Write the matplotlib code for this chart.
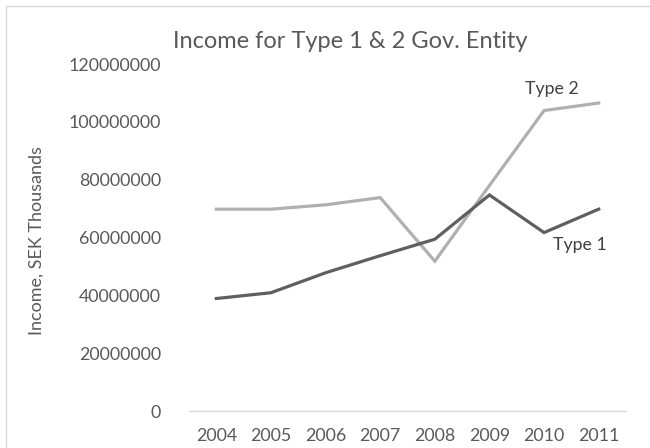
import matplotlib
matplotlib.use("Agg")
import matplotlib.pyplot as plt
from matplotlib.patches import Rectangle

years = ["2004", "2005", "2006", "2007", "2008", "2009", "2010", "2011"]
type1 = [38900000, 40900000, 47800000, 53700000, 59400000, 74700000, 61700000, 69800000]
type2 = [69800000, 69800000, 71300000, 73800000, 51800000, 78000000, 103900000, 106500000]
yticks = [0, 20000000, 40000000, 60000000, 80000000, 100000000, 120000000]

plt.rcParams['font.family'] = ['Lato', 'DejaVu Sans']

fig = plt.figure(figsize=(6.5, 4.48), dpi=100)
fig.patches.append(Rectangle((6/650, -0.1), 1.2, 1 - 6/448 + 0.1, transform=fig.transFigure,
                             fill=False, edgecolor='#d9d9d9', linewidth=1.0))
ax = fig.add_axes([189/650, 1 - 411/448, (626-189)/650, (411-64)/448])

x = list(range(len(years)))
ax.plot(x, type2, color='#b0b0b0', linewidth=2.3, solid_joinstyle='miter')
ax.plot(x, type1, color='#5f5f5f', linewidth=2.3, solid_joinstyle='miter')

ax.set_xlim(-0.5, len(years) - 0.5)
ax.set_ylim(0, 120000000)
ax.set_xticks(x)
ax.set_xticklabels(years)
ax.set_yticks(yticks)
ax.set_yticklabels([str(v) for v in yticks])
ax.tick_params(axis='both', length=0, labelsize=12.8, labelcolor='#595959')
ax.tick_params(axis='y', pad=20)
ax.tick_params(axis='x', pad=12)
for s in ['top', 'right', 'left']:
    ax.spines[s].set_visible(False)
ax.spines['bottom'].set_color('#d9d9d9')
ax.spines['bottom'].set_linewidth(1.0)

ax.text(6.15, 111500000, "Type 2", fontsize=12.8, color='#404040', ha='center', va='center')
ax.text(6.66, 57500000, "Type 1", fontsize=12.8, color='#404040', ha='center', va='center')

fig.text(350/650, 1 - 41/448, "Income for Type 1 & 2 Gov. Entity", fontsize=17,
         color='#595959', ha='center', va='center')
fig.text(37/650, 1 - 241/448, "Income, SEK Thousands", fontsize=13, color='#595959',
         ha='center', va='center', rotation=90)

fig.savefig("out.png", dpi=100)
